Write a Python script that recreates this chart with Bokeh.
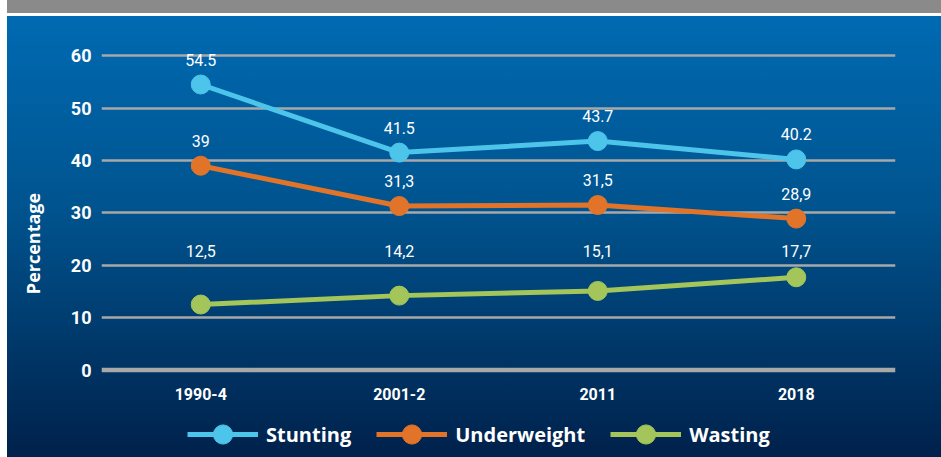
from bokeh.plotting import figure
from bokeh.models import (FactorRange, Range1d, FixedTicker, Span, Legend, LegendItem,
                          ColumnDataSource)
from bokeh.core.properties import value
from bokeh.embed import file_html
from bokeh.resources import INLINE

# ---- data ----
periods = ["1990-4", "2001-2", "2011", "2018"]
stunting = [54.5, 41.5, 43.7, 40.2]
underweight = [39, 31.3, 31.5, 28.9]
wasting = [12.5, 14.2, 15.1, 17.7]
stunting_labels = ["54.5", "41.5", "43.7", "40.2"]
underweight_labels = ["39", "31,3", "31,5", "28,9"]
wasting_labels = ["12,5", "14,2", "15,1", "17,7"]
y_ticks = [0, 10, 20, 30, 40, 50, 60]

# ---- layout constants (not data) ----
Y_MIN, Y_MAX = -16.7, 65          # frame extends below zero to hold category labels + legend
CAT_LABEL_Y = -4.5                # where the category names sit, in axis units
WASTING_LABEL_GAP = 5.1

C_STUNT = "#4dc4ea"
C_UNDER = "#e2742a"
C_WAST = "#a3c55a"
GRID = "#a8a8a8"
NARROW = "Roboto"
WIDE = "Open Sans"

p = figure(x_range=FactorRange(*periods), y_range=Range1d(Y_MIN, Y_MAX),
           frame_width=794, frame_height=428,
           min_border_left=101, min_border_right=46, min_border_top=29, min_border_bottom=0,
           output_backend="svg", toolbar_location=None)

p.styles = {"background": "linear-gradient(to right, #ffffff 7px, transparent 7px), "
                          "linear-gradient(to bottom, #8a8a8b 0px, #8a8a8b 13px, #ffffff 13px, "
                          "#ffffff 16px, #006ab2 16px, #00548f 45%, #00214b 100%)"}
p.border_fill_alpha = 0
p.background_fill_alpha = 0
p.outline_line_color = None

# grid
p.xgrid.grid_line_color = None
p.ygrid.ticker = FixedTicker(ticks=y_ticks[1:])
p.ygrid.grid_line_color = GRID
p.ygrid.grid_line_width = 2.5
p.add_layout(Span(location=0, dimension="width", line_color=GRID, line_width=4.5))

# axes
p.xaxis.visible = False
ya = p.yaxis[0]
ya.axis_line_color = None
ya.major_tick_line_color = None
ya.minor_tick_line_color = None
ya.major_tick_out = 0
ya.major_tick_in = 0
ya.minor_tick_out = 0
ya.major_label_text_color = "white"
ya.major_label_text_font = NARROW
ya.major_label_text_font_style = "bold"
ya.ticker = FixedTicker(ticks=y_ticks)
ya.major_label_text_font_size = "18px"
ya.major_label_standoff = 10
ya.axis_label = "Percentage"
ya.axis_label_text_font = WIDE
ya.axis_label_text_font_style = "bold"
ya.axis_label_text_font_size = "18px"
ya.axis_label_text_color = "white"
ya.axis_label_standoff = 23

# category names under the zero line
cat_src = ColumnDataSource(dict(x=periods, y=[CAT_LABEL_Y] * len(periods), lab=periods))
p.text("x", "y", text="lab", source=cat_src, text_align="center", text_baseline="middle",
       text_color="white", text_font_size="16px", text_font=value(NARROW),
       text_font_style="bold")

# series
items = []
series = [("Stunting", stunting, stunting_labels, C_STUNT),
          ("Underweight", underweight, underweight_labels, C_UNDER),
          ("Wasting", wasting, wasting_labels, C_WAST)]
for name, vals, labs, col in series:
    src = ColumnDataSource(dict(x=periods, y=vals, lab=labs))
    lr = p.line("x", "y", source=src, line_color=col, line_width=5)
    sr = p.scatter("x", "y", source=src, size=19, fill_color=col, line_color=col)
    items.append(LegendItem(label=name, renderers=[lr, sr]))

# value labels
for name, vals, labs, col in series[:2]:
    src = ColumnDataSource(dict(x=periods, y=vals, lab=labs))
    p.text("x", "y", text="lab", source=src, y_offset=-25, text_align="center",
           text_baseline="middle", text_color="white", text_font_size="16px",
           text_font=value(NARROW))
w_label_y = [max(wasting) + WASTING_LABEL_GAP] * len(wasting)
src = ColumnDataSource(dict(x=periods, y=w_label_y, lab=wasting_labels))
p.text("x", "y", text="lab", source=src, text_align="center", text_baseline="middle",
       text_color="white", text_font_size="16px", text_font=value(NARROW))

legend = Legend(items=items, orientation="horizontal", location=(86, -1),
                glyph_width=71, glyph_height=48, label_standoff=8, spacing=25,
                padding=0, margin=0, background_fill_alpha=0, border_line_alpha=0,
                label_text_color="white", label_text_font=WIDE,
                label_text_font_style="bold", label_text_font_size="20px")
p.add_layout(legend, "center")

open("out.html", "w").write(file_html(p, INLINE))
